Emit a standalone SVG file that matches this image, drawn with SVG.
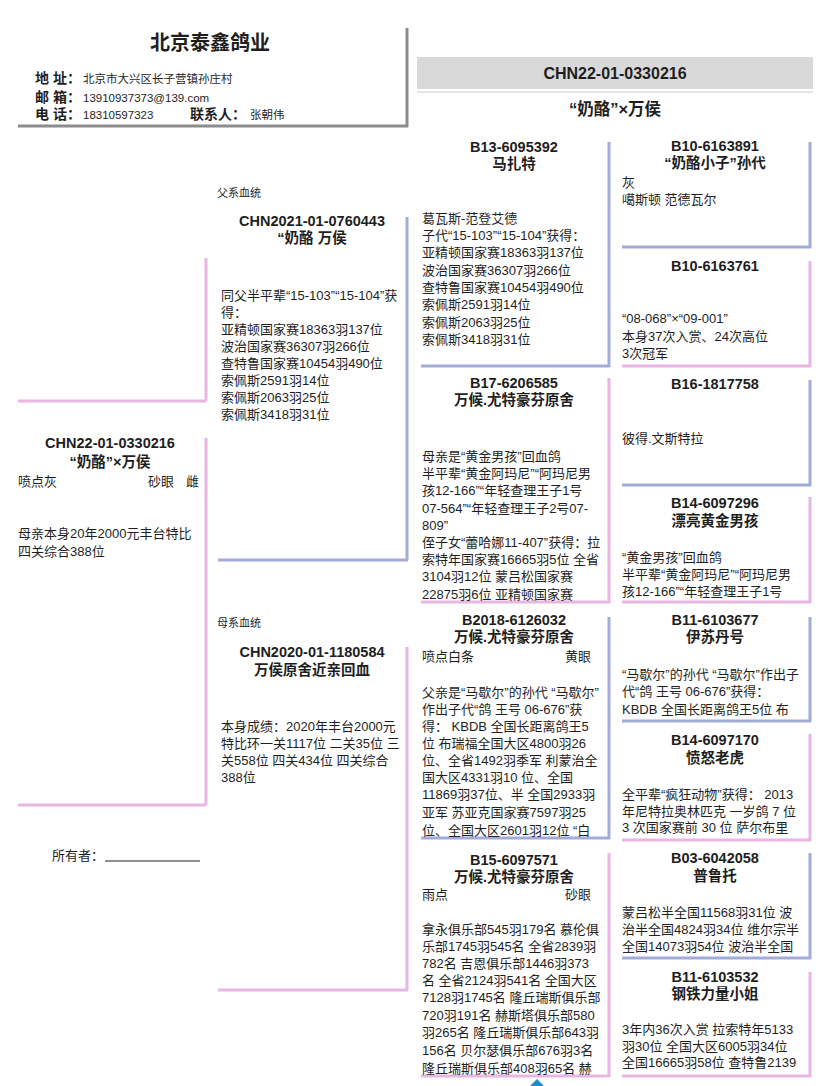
<svg xmlns="http://www.w3.org/2000/svg" width="828" height="1086" viewBox="0 0 828 1086">
<style>
text{font-family:"Liberation Sans","Noto Sans CJK SC",sans-serif;fill:#1e1e1e}
.t{font-size:14.5px;font-weight:bold;text-anchor:middle}
.x{font-size:13px}
.s{font-size:11.5px}
.lb{font-size:14px;font-weight:bold}
.b{stroke:#a3acd9;stroke-width:3;fill:none}
.p{stroke:#e9b6e3;stroke-width:3;fill:none}
.g{stroke:#8c8c8c;stroke-width:3;fill:none}
</style>
<defs>
<clipPath id="c17"><rect x="410" y="370" width="200" height="231"/></clipPath>
<clipPath id="c2018"><rect x="410" y="605" width="200" height="232"/></clipPath>
<clipPath id="c15"><rect x="410" y="845" width="200" height="230"/></clipPath>
</defs>
<rect width="828" height="1086" fill="#ffffff"/>

<g id="header">
<text x="210" y="50" style="font-size:20px;font-weight:bold;text-anchor:middle">北京泰鑫鸽业</text>
<text x="35" y="83" class="lb">地 址：</text>
<text x="83" y="83" class="s">北京市大兴区长子营镇孙庄村</text>
<text x="35" y="102" class="lb">邮 箱：</text>
<text x="83" y="102" class="s">13910937373@139.com</text>
<text x="35" y="119" class="lb">电 话：</text>
<text x="83" y="119" class="s">18310597323</text>
<text x="190" y="119" class="lb">联系人：</text>
<text x="250" y="119" class="s">张朝伟</text>
<path class="g" d="M407,28 V127 M18,126 H408"/>
</g>

<g id="title-right">
<rect x="417" y="57" width="396" height="32" fill="#d9d9d9"/>
<line x1="417" y1="92" x2="813" y2="92" stroke="#e4e4e4" stroke-width="2"/>
<text x="615" y="79" style="font-size:16px;font-weight:bold;text-anchor:middle">CHN22-01-0330216</text>
<text x="615" y="115" style="font-size:16.5px;font-weight:bold;text-anchor:middle">“奶酪”×万侯</text>
</g>

<g id="connectors">
<path class="p" d="M206,258 V401 M18,401 H206"/>
</g>

<g id="subject">
<path class="p" d="M206,438 V805 M18,805 H206"/>
<text x="110" y="448" class="t">CHN22-01-0330216</text>
<text x="110" y="467" class="t">“奶酪”×万侯</text>
<text x="18" y="486" class="x">喷点灰</text>
<text x="148" y="486" class="x">砂眼</text>
<text x="186" y="486" class="x">雌</text>
<text x="18" y="538" class="x">母亲本身20年2000元丰台特比</text>
<text x="18" y="556" class="x">四关综合388位</text>
</g>

<g id="owner">
<text x="52" y="860" class="x">所有者：</text>
<line x1="105" y1="861" x2="200" y2="861" stroke="#1e1e1e" stroke-width="1"/>
</g>

<g id="sire">
<text x="217" y="197" style="font-size:11px">父系血统</text>
<path class="b" d="M407,217 V560 M218,560 H408"/>
<text x="312" y="226" class="t">CHN2021-01-0760443</text>
<text x="312" y="243" class="t">“奶酪 万侯</text>
<text class="x"><tspan x="221" y="300">同父半平辈“15-103”“15-104”获</tspan><tspan x="221" y="317">得：</tspan><tspan x="221" y="334">亚精顿国家赛18363羽137位</tspan><tspan x="221" y="351">波治国家赛36307羽266位</tspan><tspan x="221" y="368">查特鲁国家赛10454羽490位</tspan><tspan x="221" y="385">索佩斯2591羽14位</tspan><tspan x="221" y="402">索佩斯2063羽25位</tspan><tspan x="221" y="419">索佩斯3418羽31位</tspan></text>
</g>

<g id="dam">
<text x="217" y="627" style="font-size:11px">母系血统</text>
<path class="p" d="M407,647 V990 M218,990 H408"/>
<text x="312" y="657" class="t">CHN2020-01-1180584</text>
<text x="312" y="675" class="t">万侯原舍近亲回血</text>
<text class="x"><tspan x="221" y="731">本身成绩：2020年丰台2000元</tspan><tspan x="221" y="748">特比环一关1117位 二关35位 三</tspan><tspan x="221" y="765">关558位 四关434位 四关综合</tspan><tspan x="221" y="782">388位</tspan></text>
</g>

<g id="ss">
<path class="b" d="M609,142 V367 M421,366 H610"/>
<text x="514" y="152" class="t">B13-6095392</text>
<text x="514" y="169" class="t">马扎特</text>
<text class="x"><tspan x="422" y="223">葛瓦斯-范登艾德</tspan><tspan x="422" y="240">子代“15-103”“15-104”获得：</tspan><tspan x="422" y="257">亚精顿国家赛18363羽137位</tspan><tspan x="422" y="275">波治国家赛36307羽266位</tspan><tspan x="422" y="292">查特鲁国家赛10454羽490位</tspan><tspan x="422" y="309">索佩斯2591羽14位</tspan><tspan x="422" y="327">索佩斯2063羽25位</tspan><tspan x="422" y="344">索佩斯3418羽31位</tspan></text>
</g>

<g id="sd">
<path class="p" d="M609,378 V603 M421,602 H610"/>
<text x="514" y="388" class="t">B17-6206585</text>
<text x="514" y="405" class="t">万候.尤特豪芬原舍</text>
<text class="x" clip-path="url(#c17)"><tspan x="422" y="461">母亲是“黄金男孩”回血鸽</tspan><tspan x="422" y="478">半平辈“黄金阿玛尼”“阿玛尼男</tspan><tspan x="422" y="495">孩12-166”“年轻查理王子1号</tspan><tspan x="422" y="513">07-564”“年轻查理王子2号07-</tspan><tspan x="422" y="530">809”</tspan><tspan x="422" y="547">侄子女“蕾哈娜11-407”获得：拉</tspan><tspan x="422" y="564">索特年国家赛16665羽5位 全省</tspan><tspan x="422" y="581">3104羽12位 蒙吕松国家赛</tspan><tspan x="422" y="599">22875羽6位 亚精顿国家赛</tspan></text>
</g>

<g id="ds">
<path class="b" d="M609,617 V839 M421,838 H610"/>
<text x="514" y="625" class="t">B2018-6126032</text>
<text x="514" y="642" class="t">万候.尤特豪芬原舍</text>
<text x="422" y="661" class="x">喷点白条</text>
<text x="565" y="661" class="x">黄眼</text>
<text class="x" clip-path="url(#c2018)"><tspan x="422" y="697">父亲是“马歇尔”的孙代 “马歇尔”</tspan><tspan x="422" y="714">作出子代“鸽 王号 06-676”获</tspan><tspan x="422" y="731">得： KBDB 全国长距离鸽王5</tspan><tspan x="422" y="748">位 布瑞福全国大区4800羽26</tspan><tspan x="422" y="765">位、全省1492羽季军 利蒙治全</tspan><tspan x="422" y="782">国大区4331羽10 位、全国</tspan><tspan x="422" y="799">11869羽37位、半 全国2933羽</tspan><tspan x="422" y="817">亚军 苏亚克国家赛7597羽25</tspan><tspan x="422" y="835">位、全国大区2601羽12位 “白</tspan></text>
</g>

<g id="dd">
<path class="p" d="M609,853 V1077 M421,1076 H610"/>
<text x="514" y="865" class="t">B15-6097571</text>
<text x="514" y="882" class="t">万候.尤特豪芬原舍</text>
<text x="422" y="899" class="x">雨点</text>
<text x="565" y="899" class="x">砂眼</text>
<text class="x" clip-path="url(#c15)"><tspan x="422" y="934">拿永俱乐部545羽179名 慕伦俱</tspan><tspan x="422" y="951">乐部1745羽545名 全省2839羽</tspan><tspan x="422" y="968">782名 吉恩俱乐部1446羽373</tspan><tspan x="422" y="985">名 全省2124羽541名 全国大区</tspan><tspan x="422" y="1002">7128羽1745名 隆丘瑞斯俱乐部</tspan><tspan x="422" y="1020">720羽191名 赫斯塔俱乐部580</tspan><tspan x="422" y="1037">羽265名 隆丘瑞斯俱乐部643羽</tspan><tspan x="422" y="1055">156名 贝尔瑟俱乐部676羽3名</tspan><tspan x="422" y="1073">隆丘瑞斯俱乐部408羽65名 赫</tspan></text>
</g>

<g id="sss">
<path class="b" d="M810,142 V248 M622,247 H811"/>
<text x="715" y="151" class="t">B10-6163891</text>
<text x="715" y="168" class="t">“奶酪小子”孙代</text>
<text x="622" y="187" class="x">灰</text>
<text x="622" y="204" class="x">噶斯顿 范德瓦尔</text>
</g>

<g id="ssd">
<path class="p" d="M810,261 V367 M622,366 H811"/>
<text x="715" y="271" class="t">B10-6163761</text>
<text x="622" y="323" class="x">“08-068”×“09-001”</text>
<text x="622" y="341" class="x">本身37次入赏、24次高位</text>
<text x="622" y="358" class="x">3次冠军</text>
</g>

<g id="sds">
<path class="b" d="M810,380 V486 M622,485 H811"/>
<text x="715" y="389" class="t">B16-1817758</text>
<text x="622" y="443" class="x">彼得.文斯特拉</text>
</g>

<g id="sdd">
<path class="p" d="M810,497 V603 M622,602 H811"/>
<text x="715" y="508" class="t">B14-6097296</text>
<text x="715" y="526" class="t">漂亮黄金男孩</text>
<text x="622" y="562" class="x">“黄金男孩”回血鸽</text>
<text x="622" y="579" class="x">半平辈“黄金阿玛尼”“阿玛尼男</text>
<text x="622" y="596" class="x">孩12-166”“年轻查理王子1号</text>
</g>

<g id="dss">
<path class="b" d="M810,617 V722 M622,721 H811"/>
<text x="715" y="625" class="t">B11-6103677</text>
<text x="715" y="642" class="t">伊苏丹号</text>
<text x="622" y="679" class="x">“马歇尔”的孙代 “马歇尔”作出子</text>
<text x="622" y="696" class="x">代“鸽 王号 06-676”获得：</text>
<text x="622" y="714" class="x">KBDB 全国长距离鸽王5位 布</text>
</g>

<g id="dsd">
<path class="p" d="M810,734 V841 M622,840 H811"/>
<text x="715" y="745" class="t">B14-6097170</text>
<text x="715" y="763" class="t">愤怒老虎</text>
<text x="622" y="799" class="x">全平辈“疯狂动物”获得： 2013</text>
<text x="622" y="816" class="x">年尼特拉奥林匹克 一岁鸽 7 位</text>
<text x="622" y="832" class="x">3 次国家赛前 30 位 萨尔布里</text>
</g>

<g id="dds">
<path class="b" d="M810,853 V959 M622,958 H811"/>
<text x="715" y="863" class="t">B03-6042058</text>
<text x="715" y="881" class="t">普鲁托</text>
<text x="622" y="917" class="x">蒙吕松半全国11568羽31位 波</text>
<text x="622" y="934" class="x">治半全国4824羽34位 维尔宗半</text>
<text x="622" y="951" class="x">全国14073羽54位 波治半全国</text>
</g>

<g id="ddd">
<path class="p" d="M810,972 V1077 M622,1076 H811"/>
<text x="715" y="982" class="t">B11-6103532</text>
<text x="715" y="999" class="t">钢铁力量小姐</text>
<text x="622" y="1034" class="x">3年内36次入赏 拉索特年5133</text>
<text x="622" y="1051" class="x">羽30位 全国大区6005羽34位</text>
<text x="622" y="1067" class="x">全国16665羽58位 查特鲁2139</text>
</g>

<g id="mark">
<path d="M530,1086 L537,1079 L544,1086 Z" fill="#1a8fc9"/>
</g>
</svg>
